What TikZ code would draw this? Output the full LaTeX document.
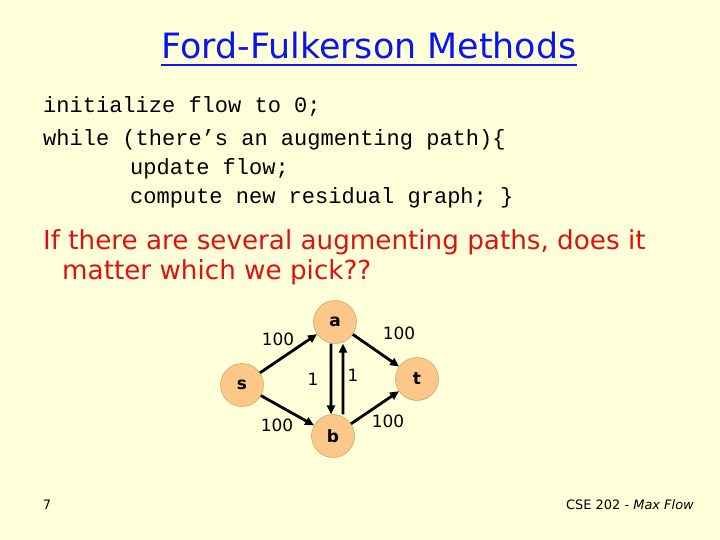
\documentclass[tikz,border=0pt]{standalone}
\usepackage{fontspec}
\setmainfont{DejaVu Sans}
\setmonofont{Liberation Mono}
\usetikzlibrary{arrows.meta,positioning}
\definecolor{slidebg}{HTML}{FFFFDA}
\definecolor{nodefill}{HTML}{FBC88A}
\definecolor{nodeline}{HTML}{C8904E}
\definecolor{titleblue}{HTML}{0A14F0}
\definecolor{askred}{HTML}{E01010}
\tikzset{
  vert/.style={circle,draw=nodeline,fill=nodefill,minimum size=43bp,inner sep=0pt,font=\fontsize{17}{17}\selectfont\bfseries},
  edge/.style={-{Triangle[length=9bp,width=8bp]},line width=2.8bp},
  elabel/.style={font=\fontsize{17}{17}\selectfont,inner sep=0pt},
  code/.style={anchor=base west,inner sep=0pt,font=\fontsize{22.1}{22}\selectfont\ttfamily},
  ask/.style={anchor=base west,inner sep=0pt,text=askred,font=\fontsize{26.3}{27}\selectfont},
}
\begin{document}
\begin{tikzpicture}[x=1bp,y=-1bp]
  \fill[slidebg] (0,0) rectangle (720,540);
  \useasboundingbox (0,0) rectangle (720,540);
  % title
  \node[anchor=base,inner sep=0pt,text=titleblue,font=\fontsize{35}{36}\selectfont] (title) at (369,59) {Ford-Fulkerson Methods};
  \draw[titleblue,line width=1.4bp] ([yshift=-6bp]title.base west) -- ([yshift=-6bp]title.base east);
  % pseudo code
  \node[code] (init) at (43,113) {initialize flow to 0;};
  \node[code] (loop) at (43,146) {while (there’s an augmenting path)\{};
  \node[code] (upd) at (130,175) {update flow;};
  \node[code] (comp) at (130,204) {compute new residual graph; \}};
  % question
  \node[ask] (q1) at (43,250) {If there are several augmenting paths, does it};
  \node[ask] (q2) at (62,280) {matter which we pick??};
  % graph
  \node[vert] (a) at (335,322) {a};
  \node[vert] (s) at (242,385) {s};
  \node[vert] (t) at (417,379) {t};
  \node[vert] (b) at (333,436) {b};
  \draw[edge] (s) -- (a);
  \draw[edge] (s) -- (b);
  \draw[edge] (a) -- (t);
  \draw[edge] (b) -- (t);
  \draw[edge] ([xshift=-4bp]a.south) -- ([xshift=-2bp]b.north);
  \draw[edge] ([xshift=10bp]b.north) -- ([xshift=8bp]a.south);
  \node[elabel] (lsa) at (278,339) {100};
  \node[elabel] (lat) at (399,333) {100};
  \node[elabel] (lsb) at (277,425) {100};
  \node[elabel] (lbt) at (388,421) {100};
  \node[elabel] (lab) at (313,379) {1};
  \node[elabel] (lba) at (353,375) {1};
  % footer
  \node[anchor=base,inner sep=0pt,font=\fontsize{13}{13}\selectfont] (page) at (47,509) {7};
  \node[anchor=base east,inner sep=0pt,font=\fontsize{13}{13}\selectfont] (foot) at (694,509) {CSE 202 - \textit{Max Flow}};
\end{tikzpicture}
\end{document}
